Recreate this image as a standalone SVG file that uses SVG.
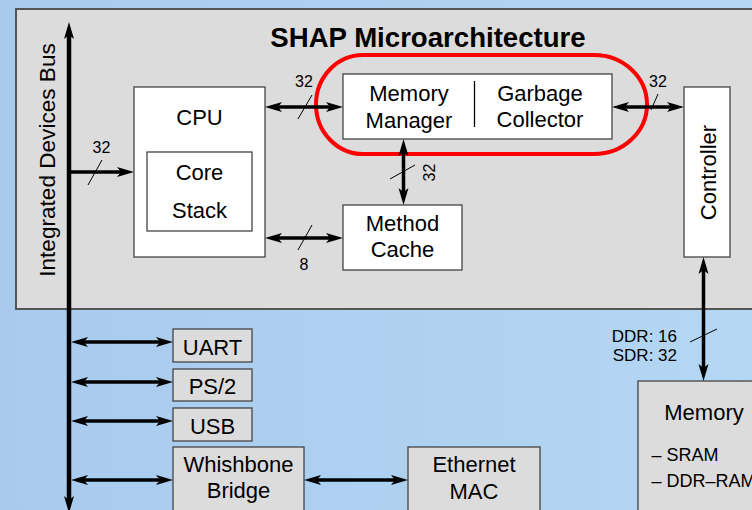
<svg xmlns="http://www.w3.org/2000/svg" width="752" height="510" viewBox="0 0 752 510">
  <defs>
    <linearGradient id="bg" x1="0" y1="0" x2="1" y2="0">
      <stop offset="0" stop-color="#a8caed"/>
      <stop offset="1" stop-color="#b4d7f4"/>
    </linearGradient>
    <marker id="ah" markerUnits="userSpaceOnUse" markerWidth="20" markerHeight="12" refX="4" refY="6" orient="auto-start-reverse" overflow="visible">
      <path d="M0,1 L17,6 L0,11 L4,6 Z" fill="#000"/>
    </marker>
    <style>
      text { font-family: "Liberation Sans", Arial, sans-serif; fill: #000; }
      .t { font-size: 22px; text-anchor: middle; }
      .lbl { font-size: 16px; text-anchor: middle; }
      .box { fill: #fff; stroke: #444; stroke-width: 1.3; }
      .gbox { fill: #dcdcdc; stroke: #444; stroke-width: 1.3; }
      .ar { stroke: #000; stroke-width: 3.5; fill: none; marker-end: url(#ah); }
      .dar { stroke: #000; stroke-width: 3.5; fill: none; marker-start: url(#ah); marker-end: url(#ah); }
      .sl { stroke: #000; stroke-width: 1; }
    </style>
  </defs>

  <rect x="0" y="0" width="752" height="510" fill="url(#bg)"/>

  <g id="panel">
    <rect x="16" y="9" width="780" height="300" fill="#dcdcdc" stroke="#555" stroke-width="2"/>
    <text x="428" y="47" style="font-size:27.6px;font-weight:bold;text-anchor:middle">SHAP Microarchitecture</text>
  </g>

  <g id="bus">
    <line x1="69" y1="35" x2="69" y2="500" stroke="#000" stroke-width="4.5" marker-start="url(#ah)" marker-end="url(#ah)"/>
    <text transform="translate(55,160) rotate(-90)" class="t" style="font-size:22.6px">Integrated Devices Bus</text>
  </g>

  <g id="cpu">
    <rect class="box" x="134" y="87" width="131" height="170"/>
    <text class="t" x="199.5" y="125">CPU</text>
    <rect class="box" x="147" y="152" width="105" height="79"/>
    <text class="t" x="199.5" y="180">Core</text>
    <text class="t" x="199.5" y="218">Stack</text>
  </g>

  <g id="memmgr">
    <rect class="box" x="343" y="74" width="269" height="65"/>
    <line x1="474.5" y1="81" x2="474.5" y2="127" stroke="#000" stroke-width="1.3"/>
    <text class="t" x="409" y="101">Memory</text>
    <text class="t" x="409" y="128">Manager</text>
    <text class="t" x="540" y="101">Garbage</text>
    <text class="t" x="540" y="127">Collector</text>
  </g>

  <g id="highlight">
    <path d="M363,55 H594 A53,49.5 0 0 1 594,154 H363 A47,49.5 0 0 1 363,55 Z" fill="none" stroke="#f00" stroke-width="4"/>
  </g>

  <g id="cache">
    <rect class="box" x="343" y="205" width="119" height="65"/>
    <text class="t" x="402.5" y="231">Method</text>
    <text class="t" x="402.5" y="257">Cache</text>
  </g>

  <g id="controller">
    <rect class="box" x="684" y="87" width="46" height="170"/>
    <text class="t" transform="translate(716,172.5) rotate(-90)">Controller</text>
  </g>

  <g id="uart">
    <rect class="gbox" x="173" y="329" width="79" height="33"/>
    <text class="t" x="212.5" y="355">UART</text>
  </g>
  <g id="ps2">
    <rect class="gbox" x="173" y="369" width="79" height="32"/>
    <text class="t" x="212.5" y="394">PS/2</text>
  </g>
  <g id="usb">
    <rect class="gbox" x="173" y="408" width="79" height="33"/>
    <text class="t" x="212.5" y="433.5">USB</text>
  </g>
  <g id="bridge">
    <rect class="gbox" x="173" y="447" width="131" height="80"/>
    <text class="t" x="238.5" y="472">Whishbone</text>
    <text class="t" x="238.5" y="498">Bridge</text>
  </g>
  <g id="ethernet">
    <rect class="gbox" x="408" y="447" width="132" height="80"/>
    <text class="t" x="474" y="472">Ethernet</text>
    <text class="t" x="474" y="499">MAC</text>
  </g>
  <g id="memory">
    <rect class="gbox" x="638" y="381" width="140" height="150"/>
    <text class="t" x="704" y="420">Memory</text>
    <text x="651.5" y="461" style="font-size:18px">– SRAM</text>
    <text x="651.5" y="487" style="font-size:18px">– DDR–RAM</text>
  </g>

  <g id="connectors">
    <line class="ar" x1="71" y1="172" x2="121" y2="172"/>
    <line class="sl" x1="88" y1="185" x2="102" y2="160"/>
    <text class="lbl" x="101.5" y="153">32</text>

    <line class="dar" x1="278" y1="107" x2="330" y2="107"/>
    <line class="sl" x1="298" y1="119" x2="312" y2="95"/>
    <text class="lbl" x="304" y="87">32</text>

    <line class="dar" x1="625" y1="107" x2="671" y2="107"/>
    <line class="sl" x1="651" y1="110" x2="658" y2="94"/>
    <text class="lbl" x="658" y="87">32</text>

    <line class="dar" x1="278" y1="238" x2="330" y2="238"/>
    <line class="sl" x1="298" y1="250" x2="312" y2="225"/>
    <text class="lbl" x="304" y="270">8</text>

    <line class="dar" x1="403.5" y1="152" x2="403.5" y2="192"/>
    <line class="sl" x1="390" y1="179" x2="415" y2="165"/>
    <text class="lbl" transform="translate(434.5,172.5) rotate(-90)">32</text>

    <line class="dar" x1="703.5" y1="270" x2="703.5" y2="368"/>
    <line class="sl" x1="690" y1="342" x2="717" y2="329"/>
    <text x="677" y="342" style="font-size:17px;text-anchor:end">DDR: 16</text>
    <text x="677" y="361" style="font-size:17px;text-anchor:end">SDR: 32</text>

    <line class="dar" x1="84" y1="342" x2="160" y2="342"/>
    <line class="dar" x1="84" y1="382" x2="160" y2="382"/>
    <line class="dar" x1="84" y1="421" x2="160" y2="421"/>
    <line class="dar" x1="84" y1="480" x2="160" y2="480"/>
    <line class="dar" x1="317" y1="480" x2="395" y2="480"/>
  </g>
</svg>
